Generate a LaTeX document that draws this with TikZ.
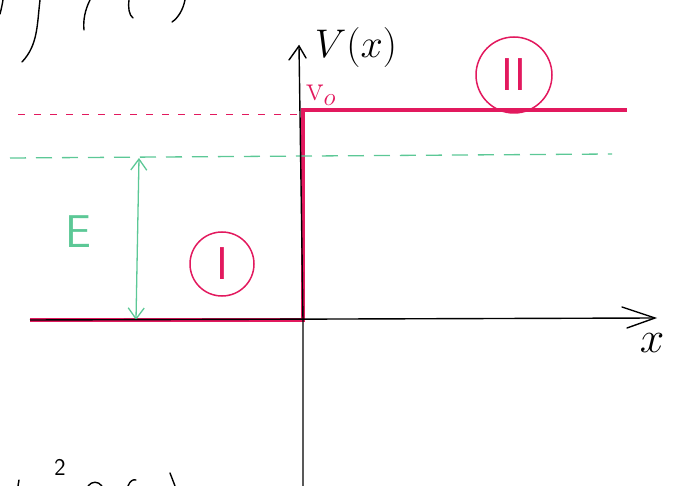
\RequirePackage{fix-cm}
\documentclass[tikz,border=0pt]{standalone}
\usetikzlibrary{arrows.meta}
\definecolor{pen}{HTML}{E2195E}
\definecolor{grn}{HTML}{5CC896}
\begin{document}
\begin{tikzpicture}[x=1pt,y=-1pt,
  axis/.style={black,line width=1.4pt},
  potential/.style={pen,line width=4pt},
  reddash/.style={pen,line width=1pt,dash pattern=on 7pt off 9pt},
  grndash/.style={grn,line width=1.3pt,dash pattern=on 16pt off 10pt},
  regionlabel/.style={circle,draw=pen,line width=1.5pt,text=pen,minimum size=64pt,inner sep=0pt,font=\fontsize{46}{46}\selectfont\sffamily},
  scribble/.style={black,line width=1.4pt,line cap=round}]
\useasboundingbox (0,0) rectangle (677,486);
% coordinates
\coordinate (yb) at (303,486);
\coordinate (yt) at (299,46);
\coordinate (xl) at (30,320);
\coordinate (xr) at (655,318);
\coordinate (o) at (303,320);
\coordinate (vt) at (303,110);
\coordinate (vr) at (627,110);
% potential (red)
\draw[potential] (xl) -- (o) -- (vt) -- (vr);
\draw[reddash] (18,115) -- (300,115);
% energy level (green)
\draw[grndash] (10,158) -- (612,154);
\coordinate (ea) at (139,158);
\coordinate (eb) at (136,320);
\draw[grn,line width=1.3pt,{Straight Barb[length=11pt,width=16pt]}-{Straight Barb[length=11pt,width=16pt]}] (ea) -- (eb);
\node[text=grn,font=\fontsize{46}{46}\selectfont\sffamily] (E) at (78,232) {E};
% axes
\draw[axis] (yb) -- (303,320) -- (yt);
\draw[axis,line cap=round] (289,60) -- (yt) -- (306,58);
\draw[axis] (xl) -- (xr);
\draw[axis,line cap=round] (622,307) -- (xr) -- (627,328);
\node[font=\fontsize{40}{40}\selectfont,inner sep=0pt] (Vx) at (356,48) {$V(x)$};
\node[font=\fontsize{44}{44}\selectfont] (xlab) at (652,343) {$x$};
\node[text=pen,font=\fontsize{36}{36}\selectfont,inner sep=0pt,anchor=south west] (V0) at (306,106) {$\mathrm{v}_{o}$};
% region labels
\node[regionlabel] (I) at (222,264) {I};
\node[regionlabel,minimum size=76pt] (II) at (514,75) {II};
% page fragments
\draw[scribble] (40,0) .. controls (37,25) and (38,45) .. (22,62);
\draw[scribble] (3,0) .. controls (2,6) and (1,10) .. (0,14);
\draw[scribble] (90,0) .. controls (85,10) and (83,20) .. (84,30);
\draw[scribble] (129,0) .. controls (128,8) and (129,15) .. (133,18);
\draw[scribble] (185,0) .. controls (183,10) and (178,18) .. (172,22);
\node[font=\fontsize{24}{24}\selectfont\sffamily] (two) at (60,467) {2};
\draw[scribble] (18,486) -- (19,480);
\draw[scribble] (88,486) .. controls (92,481) and (98,481) .. (102,486);
\draw[scribble] (128,486) .. controls (130,481) and (133,479) .. (136,480);
\draw[scribble] (170,473) -- (175,486);
\end{tikzpicture}
\end{document}
